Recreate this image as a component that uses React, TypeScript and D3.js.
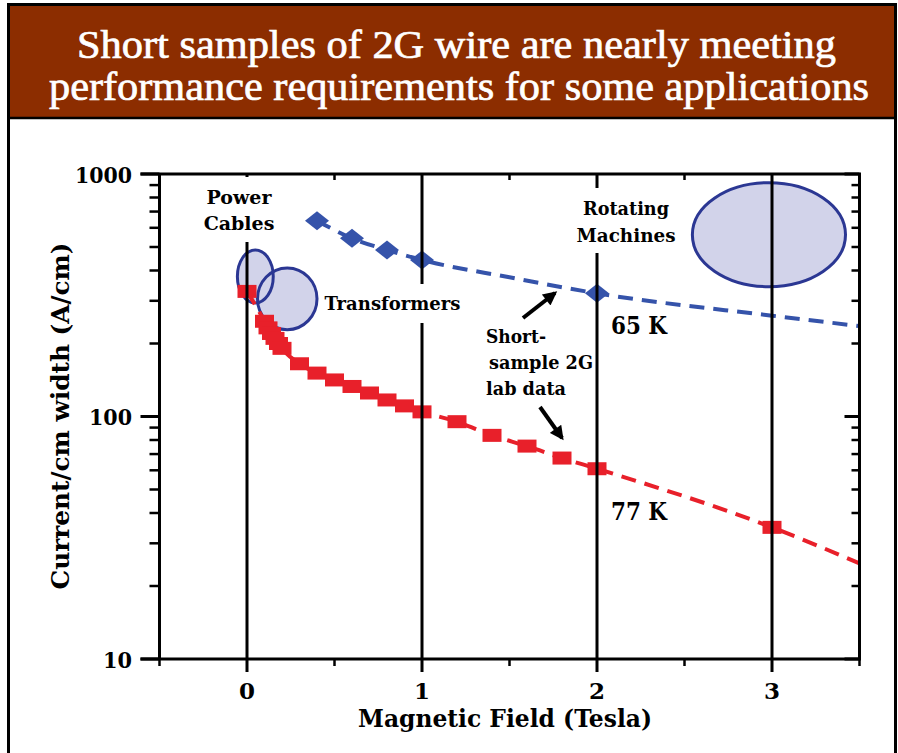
import React from "react";
import * as d3 from "d3";

// ---- data ----
const TITLE_LINES = [
  "Short samples of 2G wire are nearly meeting",
  "performance requirements for some applications",
];
const X_TICKS = [0, 1, 2, 3];
const X_MINOR_TICKS = [-0.5, 0.5, 1.5, 2.5, 3.5];
const Y_TICKS = [10, 100, 1000];
const Y_TICK_LABELS = ["10", "100", "1000"];
const X_LABEL = "Magnetic Field (Tesla)";
const Y_LABEL = "Current/cm width (A/cm)";

// 77 K short-sample data (red squares)
const field77 = [0, 0.1, 0.12, 0.14, 0.16, 0.18, 0.2, 0.3, 0.4, 0.5, 0.6, 0.7, 0.8, 0.9, 1.0, 1.2, 1.4, 1.6, 1.8, 2.0, 3.0];
const current77 = [328, 247, 232, 220, 210, 200, 191, 165, 151, 141.5, 133, 125, 117, 110.6, 104.5, 95.2, 83.6, 75.5, 67.4, 60.9, 34.9];
// 77 K trend extension
const trendField77 = [3.5];
const trendCurrent77 = [24.8];

// 65 K short-sample data (blue diamonds)
const field65 = [0.4, 0.6, 0.8, 1.0, 2.0];
const current65 = [642, 543, 486, 442, 322];
// 65 K trend extension
const trendField65 = [1.5, 3.0, 3.5];
const trendCurrent65 = [375, 260.5, 236];

// application regions
const appNames = ["Power Cables", "Transformers", "Rotating Machines"];
const appFieldMin = [-0.055, 0.06, 2.545];
const appFieldMax = [0.15, 0.4, 3.42];
const appCurrentMin = [294, 228, 343];
const appCurrentMax = [486, 410, 921];

const TEMP_LABELS = ["65 K", "77 K"];
const NOTE_LINES = ["Short-", "sample 2G", "lab data"];

const SERIF = "'DejaVu Serif', 'Liberation Serif', serif";
const TITLE_FONT = "'Liberation Serif', 'DejaVu Serif', serif";

export default function App() {
  const W = 898;
  const H = 753;
  const x = d3.scaleLinear().domain([-0.5, 3.5]).range([159.5, 859.5]);
  const y = d3.scaleLog().domain([10, 1000]).range([659, 174]);
  const [x0, x1] = x.range();
  const yTop = y(1000);
  const yBot = y(10);

  const minorY: number[] = [];
  [10, 100].forEach((d) => {
    for (let k = 2; k <= 9; k++) minorY.push(d * k);
  });

  const line = d3
    .line<[number, number]>()
    .x((d) => x(d[0]))
    .y((d) => y(d[1]))
    .curve(d3.curveMonotoneX);

  const pts77: [number, number][] = field77.map((f, i) => [f, current77[i]]);
  const tr77: [number, number][] = trendField77.map((f, i) => [f, trendCurrent77[i]]);
  const all77 = [...pts77, ...tr77]
    .filter((d, i, arr) => arr.findIndex((e) => e[0] === d[0]) === i)
    .sort((a, b) => a[0] - b[0]);
  const pts65: [number, number][] = field65.map((f, i) => [f, current65[i]]);
  const tr65: [number, number][] = trendField65.map((f, i) => [f, trendCurrent65[i]]);
  const all65 = [...pts65, ...tr65]
    .filter((d, i, arr) => arr.findIndex((e) => e[0] === d[0]) === i)
    .sort((a, b) => a[0] - b[0]);

  const ellipses = appNames.map((n, i) => {
    const ax0 = x(appFieldMin[i]);
    const ax1 = x(appFieldMax[i]);
    const ay0 = y(appCurrentMax[i]);
    const ay1 = y(appCurrentMin[i]);
    return { name: n, cx: (ax0 + ax1) / 2, cy: (ay0 + ay1) / 2, rx: (ax1 - ax0) / 2, ry: (ay1 - ay0) / 2 };
  });

  const red = "#e8202a";
  const blue = "#3553aa";
  const ellFill = "#d2d3ea";
  const ellStroke = "#2b3793";

  const dw = 12, dh = 9.5; // diamond half sizes
  const sw = 9.5, sh = 6.5; // square half sizes
  const yLabelLen = [29, 43, 57];

  return (
    <svg width={W} height={H} style={{ position: "absolute", left: 0, top: 0, background: "#fff" }}>
      <defs>
        <marker id="arrowHead" viewBox="0 0 10 10" refX="8" refY="5" markerWidth="16" markerHeight="14" markerUnits="userSpaceOnUse" orient="auto">
          <path d="M0,0 L10,5 L0,10 Z" fill="#000" />
        </marker>
      </defs>
      {/* outer frame */}
      <rect x={8.5} y={4.5} width={887} height={H + 20} fill="#fff" stroke="#000" strokeWidth={3} />
      <rect x={10} y={6} width={884} height={111} fill="#8c2d00" />
      <line x1={10} x2={894} y1={118} y2={118} stroke="#000" strokeWidth={2.5} />
      {TITLE_LINES.map((t, i) => (
        <text key={t} x={i === 0 ? 456.5 : 459} y={i === 0 ? 58 : 100} textAnchor="middle" fill="#fff"
          stroke="#fff" strokeWidth={0.7}
          fontFamily={TITLE_FONT} fontSize={39} textLength={i === 0 ? 759 : 820} lengthAdjust="spacingAndGlyphs">
          {t}
        </text>
      ))}

      {/* application ellipses */}
      {ellipses.map((e) => (
        <ellipse key={e.name + "f"} cx={e.cx} cy={e.cy} rx={e.rx} ry={e.ry} fill={ellFill} />
      ))}
      {ellipses.map((e) => (
        <ellipse key={e.name + "s"} cx={e.cx} cy={e.cy} rx={e.rx} ry={e.ry} fill="none" stroke={ellStroke} strokeWidth={3} />
      ))}

      {/* trend lines */}
      <path d={line(all65) || ""} fill="none" stroke={blue} strokeWidth={4} strokeDasharray="15,9" />
      <path d={line(all77) || ""} fill="none" stroke={red} strokeWidth={4} strokeDasharray="15,9" />

      {/* markers */}
      {pts77.map((d, i) => (
        <rect key={"s" + i} x={x(d[0]) - sw} y={y(d[1]) - sh} width={sw * 2} height={sh * 2} fill={red} />
      ))}
      {pts65.map((d, i) => {
        const cx = x(d[0]);
        const cy = y(d[1]);
        return (
          <path key={"d" + i} d={`M${cx - dw},${cy} L${cx},${cy - dh} L${cx + dw},${cy} L${cx},${cy + dh} Z`} fill={blue} />
        );
      })}

      {/* vertical field lines */}
      {X_TICKS.map((t) => (
        <line key={"v" + t} x1={x(t)} x2={x(t)} y1={yTop} y2={yBot + 13} stroke="#000" strokeWidth={3} />
      ))}

      {/* axes frame */}
      <line x1={x0} x2={x0} y1={yTop} y2={yBot} stroke="#000" strokeWidth={3} />
      <line x1={x1} x2={x1} y1={yTop} y2={yBot} stroke="#000" strokeWidth={3} />
      <line x1={x0 - 19} x2={x1 + 1.5} y1={yTop} y2={yTop} stroke="#000" strokeWidth={3} />
      <line x1={x0 - 19} x2={x1 + 1.5} y1={yBot} y2={yBot} stroke="#000" strokeWidth={3} />
      {/* left ticks (outward) */}
      {Y_TICKS.map((t) => (
        <line key={"ly" + t} x1={x0 - 19} x2={x0} y1={y(t)} y2={y(t)} stroke="#000" strokeWidth={3} />
      ))}
      {minorY.map((t) => (
        <line key={"lmy" + t} x1={x0 - 10} x2={x0} y1={y(t)} y2={y(t)} stroke="#000" strokeWidth={2.5} />
      ))}
      {/* right ticks (inward) */}
      {Y_TICKS.map((t) => (
        <line key={"ry" + t} x1={x1 - 15} x2={x1} y1={y(t)} y2={y(t)} stroke="#000" strokeWidth={3} />
      ))}
      {minorY.map((t) => (
        <line key={"rmy" + t} x1={x1 - 8} x2={x1} y1={y(t)} y2={y(t)} stroke="#000" strokeWidth={2.5} />
      ))}
      {/* top ticks (inward) */}
      {X_MINOR_TICKS.map((t) => (
        <line key={"tx" + t} x1={x(t)} x2={x(t)} y1={yTop} y2={yTop + 6} stroke="#000" strokeWidth={2.5} />
      ))}
      {/* bottom ticks (outward) */}
      {X_MINOR_TICKS.map((t) => (
        <line key={"bx" + t} x1={x(t)} x2={x(t)} y1={yBot} y2={yBot + 7} stroke="#000" strokeWidth={2.5} />
      ))}

      {/* tick labels */}
      {Y_TICKS.map((t, i) => (
        <text key={"yl" + t} x={132} y={y(t) + 8.5} textAnchor="end" fontFamily={SERIF} fontWeight="bold" fontSize={23}
          textLength={yLabelLen[i]} lengthAdjust="spacingAndGlyphs">
          {Y_TICK_LABELS[i]}
        </text>
      ))}
      {X_TICKS.map((t) => (
        <text key={"xl" + t} x={x(t)} y={699} textAnchor="middle" fontFamily={SERIF} fontWeight="bold" fontSize={23}>
          {String(t)}
        </text>
      ))}
      <text x={505} y={727} textAnchor="middle" fontFamily={SERIF} fontWeight="bold" fontSize={23.5} textLength={294} lengthAdjust="spacingAndGlyphs">
        {X_LABEL}
      </text>
      <text transform="translate(69,416) rotate(-90)" textAnchor="middle" fontFamily={SERIF} fontWeight="bold" fontSize={23.5} textLength={347} lengthAdjust="spacingAndGlyphs">
        {Y_LABEL}
      </text>

      {/* application label boxes */}
      <rect x={203} y={177} width={74} height={65} fill="#fff" />
      <rect x={321} y={284} width={144} height={39} fill="#fff" />
      <rect x={572} y={188} width={108} height={65} fill="#fff" />
      <text x={239} y={204} textAnchor="middle" fontFamily={SERIF} fontWeight="bold" fontSize={19}>Power</text>
      <text x={239} y={230} textAnchor="middle" fontFamily={SERIF} fontWeight="bold" fontSize={19}>Cables</text>
      <text x={392.5} y={310} textAnchor="middle" fontFamily={SERIF} fontWeight="bold" fontSize={19} textLength={136} lengthAdjust="spacingAndGlyphs">{appNames[1]}</text>
      <text x={626} y={215} textAnchor="middle" fontFamily={SERIF} fontWeight="bold" fontSize={19} textLength={86} lengthAdjust="spacingAndGlyphs">Rotating</text>
      <text x={626} y={242} textAnchor="middle" fontFamily={SERIF} fontWeight="bold" fontSize={19} textLength={99} lengthAdjust="spacingAndGlyphs">Machines</text>

      {/* temperature labels */}
      <text x={611} y={334} fontFamily={SERIF} fontWeight="bold" fontSize={24} textLength={56} lengthAdjust="spacingAndGlyphs">{TEMP_LABELS[0]}</text>
      <text x={611} y={520} fontFamily={SERIF} fontWeight="bold" fontSize={24} textLength={56} lengthAdjust="spacingAndGlyphs">{TEMP_LABELS[1]}</text>

      {/* note */}
      <text x={486} y={343} fontFamily={SERIF} fontWeight="bold" fontSize={19} textLength={60} lengthAdjust="spacingAndGlyphs">{NOTE_LINES[0]}</text>
      <text x={489} y={369} fontFamily={SERIF} fontWeight="bold" fontSize={19} textLength={104} lengthAdjust="spacingAndGlyphs">{NOTE_LINES[1]}</text>
      <text x={486} y={395} fontFamily={SERIF} fontWeight="bold" fontSize={19} textLength={80} lengthAdjust="spacingAndGlyphs">{NOTE_LINES[2]}</text>

      {/* arrows */}
      <line x1={523} y1={318} x2={555} y2={293} stroke="#000" strokeWidth={4} markerEnd="url(#arrowHead)" />
      <line x1={540} y1={407} x2={562} y2={438} stroke="#000" strokeWidth={4} markerEnd="url(#arrowHead)" />
    </svg>
  );
}
